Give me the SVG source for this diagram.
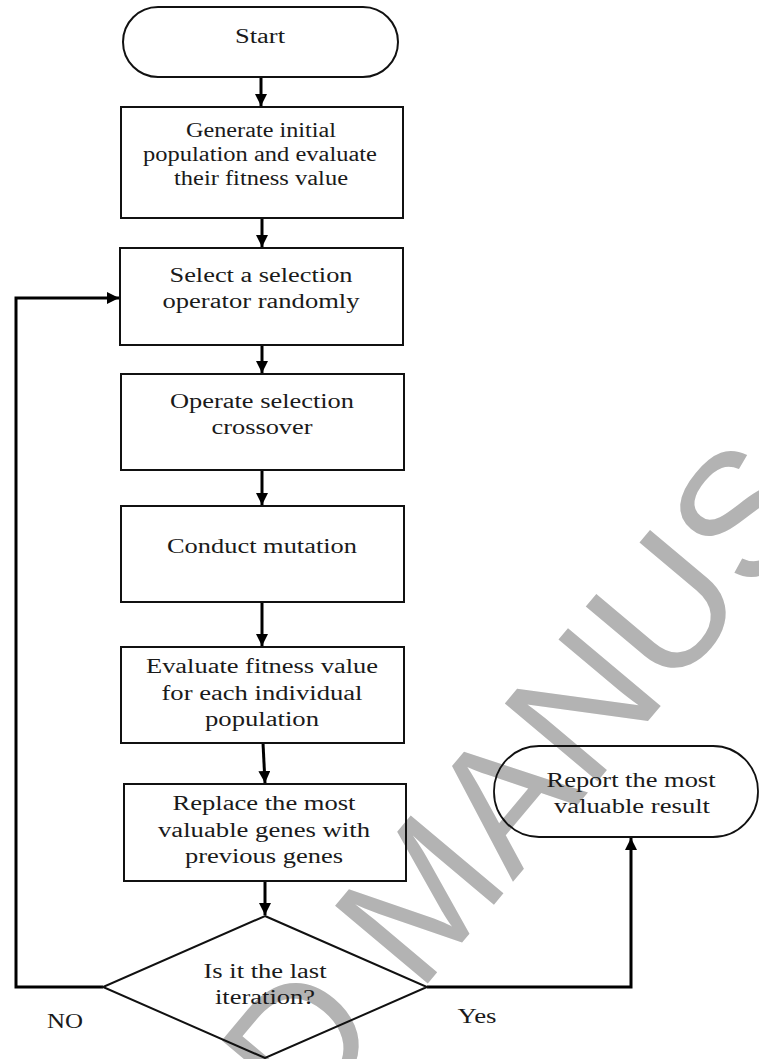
<svg xmlns="http://www.w3.org/2000/svg" width="759" height="1059" viewBox="0 0 759 1059">
<style>
.bx{fill:none;stroke:#111;stroke-width:2}
.tm{fill:none;stroke:#111;stroke-width:1.8}
.ln{fill:none;stroke:#000;stroke-width:3}
.t{font-family:"Liberation Serif","Times New Roman",serif;font-size:20px;fill:#1a1a1a;text-anchor:middle}
.wm{font-family:"Liberation Sans",Arial,sans-serif;font-size:176px;fill:#b3b3b3}
</style>
<defs>
<marker id="ah" viewBox="0 0 10 10" refX="10" refY="5" markerWidth="4" markerHeight="4" orient="auto" markerUnits="strokeWidth">
<path d="M0,0 L10,5 L0,10 z" fill="#000"/>
</marker>
</defs>
<rect width="759" height="1059" fill="#fff"/>
<text class="wm" x="-229" y="1766" transform="rotate(-50 -229 1766)">ACCEPTED MANUSCRIPT</text>

<g id="connectors">
<line class="ln" x1="261" y1="77" x2="261" y2="106" marker-end="url(#ah)"/>
<line class="ln" x1="262" y1="218" x2="262" y2="247" marker-end="url(#ah)"/>
<line class="ln" x1="262" y1="345" x2="262" y2="373" marker-end="url(#ah)"/>
<line class="ln" x1="262" y1="470" x2="262" y2="505" marker-end="url(#ah)"/>
<line class="ln" x1="262" y1="602" x2="262" y2="646" marker-end="url(#ah)"/>
<line class="ln" x1="263" y1="743" x2="265" y2="783" marker-end="url(#ah)"/>
<line class="ln" x1="265" y1="881" x2="265" y2="915" marker-end="url(#ah)"/>
<polyline class="ln" points="103,987 16,987 16,298 119,298" marker-end="url(#ah)"/>
<polyline class="ln" points="427,987 631,987 631,838" marker-end="url(#ah)"/>
</g>

<g id="start">
<rect class="bx" x="123" y="7" width="275" height="70" rx="35"/>
<text class="t" x="260" y="43" textLength="50" lengthAdjust="spacingAndGlyphs">Start</text>
</g>
<g id="generate">
<rect class="bx" x="121" y="107" width="282" height="111"/>
<text class="t" x="261" y="137" textLength="150" lengthAdjust="spacingAndGlyphs">Generate initial</text>
<text class="t" x="260" y="161" textLength="234" lengthAdjust="spacingAndGlyphs">population and evaluate</text>
<text class="t" x="261" y="185" textLength="174" lengthAdjust="spacingAndGlyphs">their fitness value</text>
</g>
<g id="select">
<rect class="bx" x="120" y="248" width="283" height="97"/>
<text class="t" x="261" y="282" textLength="183" lengthAdjust="spacingAndGlyphs">Select a selection</text>
<text class="t" x="261" y="308" textLength="197" lengthAdjust="spacingAndGlyphs">operator randomly</text>
</g>
<g id="crossover">
<rect class="bx" x="121" y="374" width="283" height="96"/>
<text class="t" x="262" y="408" textLength="184" lengthAdjust="spacingAndGlyphs">Operate selection</text>
<text class="t" x="262" y="434" textLength="101" lengthAdjust="spacingAndGlyphs">crossover</text>
</g>
<g id="mutation">
<rect class="bx" x="121" y="506" width="283" height="96"/>
<text class="t" x="262" y="553" textLength="190" lengthAdjust="spacingAndGlyphs">Conduct mutation</text>
</g>
<g id="evaluate">
<rect class="bx" x="121" y="647" width="283" height="96"/>
<text class="t" x="262" y="673" textLength="232" lengthAdjust="spacingAndGlyphs">Evaluate fitness value</text>
<text class="t" x="262" y="700" textLength="201" lengthAdjust="spacingAndGlyphs">for each individual</text>
<text class="t" x="262" y="726" textLength="114" lengthAdjust="spacingAndGlyphs">population</text>
</g>
<g id="replace">
<rect class="bx" x="124" y="784" width="282" height="97"/>
<text class="t" x="264" y="810" textLength="183" lengthAdjust="spacingAndGlyphs">Replace the most</text>
<text class="t" x="264" y="837" textLength="212" lengthAdjust="spacingAndGlyphs">valuable genes with</text>
<text class="t" x="264" y="863" textLength="158" lengthAdjust="spacingAndGlyphs">previous genes</text>
</g>
<g id="decision">
<polygon class="bx" points="265,916 427,987 265,1058 103,987"/>
<text class="t" x="265" y="978" textLength="123" lengthAdjust="spacingAndGlyphs">Is it the last</text>
<text class="t" x="265" y="1004" textLength="100" lengthAdjust="spacingAndGlyphs">iteration?</text>
</g>
<g id="report">
<rect class="tm" x="494" y="746" width="264" height="91" rx="45"/>
<text class="t" x="631" y="787" textLength="169" lengthAdjust="spacingAndGlyphs">Report the most</text>
<text class="t" x="632" y="813" textLength="156" lengthAdjust="spacingAndGlyphs">valuable result</text>
</g>
<g id="labels">
<text class="t" x="65" y="1028" textLength="36" lengthAdjust="spacingAndGlyphs">NO</text>
<text class="t" x="477" y="1023" textLength="39" lengthAdjust="spacingAndGlyphs">Yes</text>
</g>
</svg>
